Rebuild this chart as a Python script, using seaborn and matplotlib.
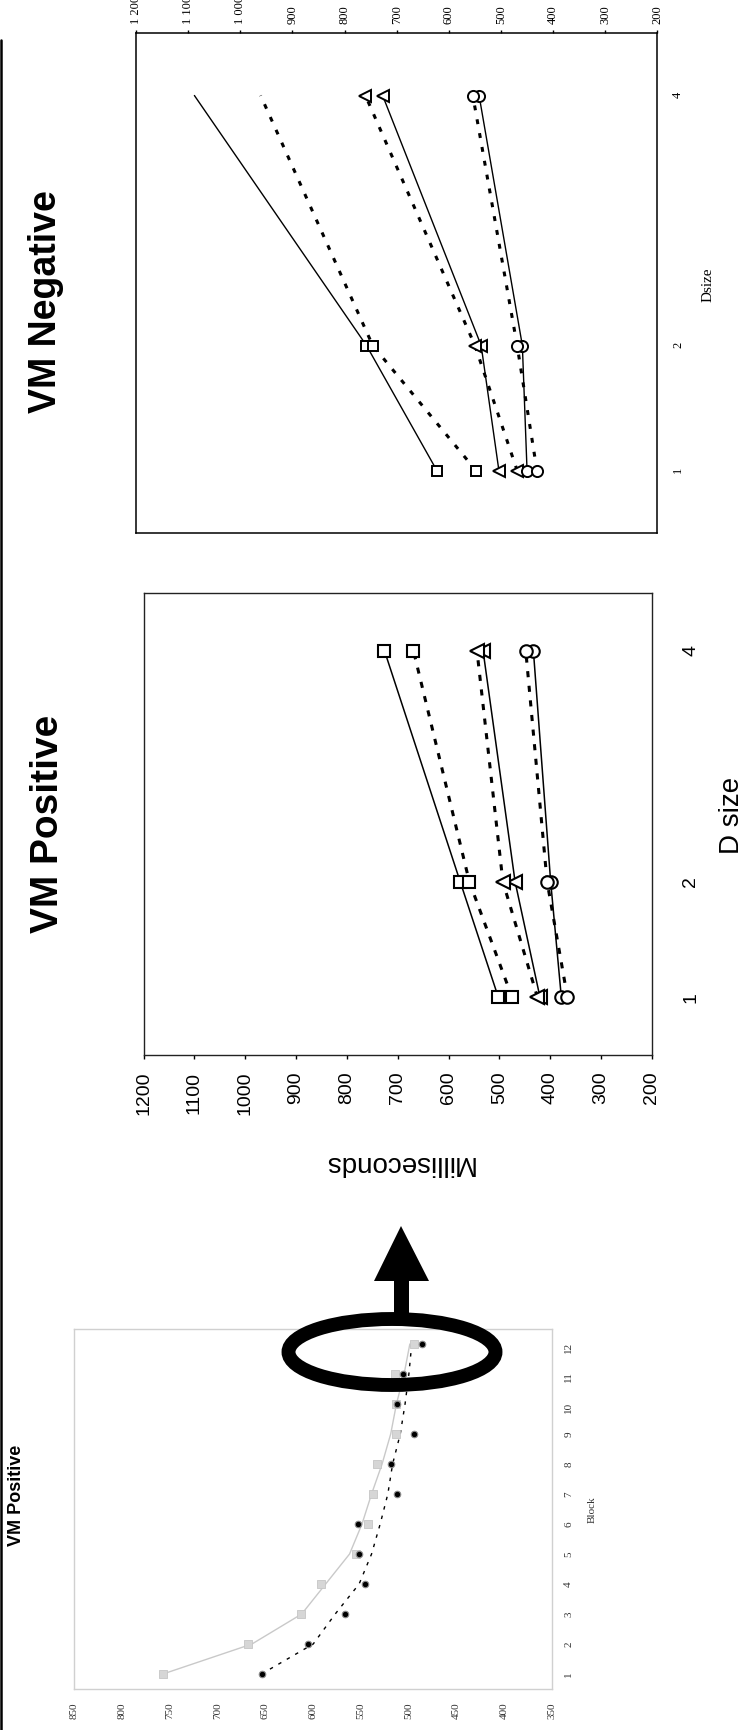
import matplotlib
matplotlib.use("Agg")
import matplotlib.pyplot as plt
import seaborn as sns
from matplotlib.patches import Ellipse, Polygon
from matplotlib.lines import Line2D
from matplotlib.transforms import Affine2D
from matplotlib.ticker import FuncFormatter

# ---------------- data ----------------
dsize = [1, 2, 4]

# VM Positive, response time (ms) by distractor-set size
pos_square_solid = [502, 577, 726]
pos_square_dotted = [475, 559, 669]
pos_triangle_solid = [420, 469, 532]
pos_triangle_dotted = [425, 493, 544]
pos_circle_solid = [378, 399, 433]
pos_circle_dotted = [366, 406, 448]

# VM Negative, response time (ms) by distractor-set size
neg_square_solid = [623, 758, 1088]
neg_square_dotted = [548, 746, 961]
neg_triangle_solid = [504, 538, 727]
neg_triangle_dotted = [469, 550, 760]
neg_circle_solid = [450, 459, 542]
neg_circle_dotted = [431, 469, 554]

# VM Positive, practice curve over blocks
blocks = list(range(1, 13))
block_rt_gray = [757, 668, 613, 592, 555, 543, 537, 533, 513, 513, 514, 495]
block_rt_black = [654, 605, 567, 546, 552, 553, 512, 519, 495, 512, 506, 486]
block_fit_gray = [757, 664, 612, 587, 562, 549, 539, 528, 519, 513, 505, 499]
block_fit_black = [654, 600, 577, 552, 539, 530, 522, 517, 509, 504, 500, 497]

ms_ticks = list(range(200, 1201, 100))
block_ms_ticks = list(range(350, 851, 50))

# ---------------- figure ----------------
W, H, DPI = 749, 1731, 100
sns.set_theme(style="white")
plt.rcParams["font.family"] = ["Liberation Sans", "DejaVu Sans"]
plt.rcParams["text.color"] = "black"
plt.rcParams["axes.labelcolor"] = "black"
plt.rcParams["xtick.color"] = "black"
plt.rcParams["ytick.color"] = "black"
fig = plt.figure(figsize=(W / DPI, H / DPI), dpi=DPI)
fig.patch.set_facecolor("white")

# pixel coordinates measured from the top-left corner of the page
px = Affine2D().scale(1 / W, -1 / H).translate(0, 1) + fig.transFigure


def box(left, top, right, bottom):
    return [left / W, 1 - bottom / H, (right - left) / W, (bottom - top) / H]


def series(ax, ms, marker, dotted, msize, mew, lw, dash, **extra):
    kw = dict(marker=marker, markersize=msize, markerfacecolor="white",
              markeredgecolor="black", markeredgewidth=mew,
              color="black", linewidth=lw)
    if dotted:
        kw["linestyle"] = (0, dash)
    kw.update(extra)
    sns.lineplot(x=ms, y=dsize, orient="y", estimator=None, ax=ax, **kw)


# ---------------- VM Positive by D size ----------------
ax = fig.add_axes(box(143.6, 594, 651.8, 1056))
dash_p = (2.0, 2.8)
series(ax, pos_square_solid, "s", False, 8.8, 1.5, 1.1, dash_p)
series(ax, pos_square_dotted, "s", True, 8.8, 1.5, 2.2, dash_p)
series(ax, pos_triangle_solid, "<", False, 9.5, 1.5, 1.1, dash_p)
series(ax, pos_triangle_dotted, "<", True, 9.5, 1.5, 2.2, dash_p)
series(ax, pos_circle_solid, "o", False, 9.0, 1.5, 1.1, dash_p)
series(ax, pos_circle_dotted, "o", True, 9.0, 1.5, 2.2, dash_p)
ax.set_xlim(1200, 200)
ax.set_ylim(0.5, 4.5)
ax.set_xticks(ms_ticks)
ax.set_yticks(dsize)
ax.tick_params(axis="x", bottom=True, top=False, direction="out", length=3.2,
               width=1, labelsize=14, labelrotation=90, pad=8, colors="black")
ax.tick_params(axis="y", left=False, right=False, labelleft=False,
               labelright=True, labelsize=14, labelrotation=90, pad=16,
               colors="black")
for s in ax.spines.values():
    s.set_color("#222222")
    s.set_linewidth(1.0)
ax.set_xlabel("Milliseconds", fontsize=20, rotation=180, color="black")
ax.xaxis.set_label_coords(0.5, (1056 - 1163) / 462)
ax.xaxis.label.set_va("center")
ax.set_ylabel("D size", fontsize=20, rotation=90, color="black")
ax.yaxis.set_label_position("right")
ax.yaxis.set_label_coords((732 - 143.6) / 508.2, (1056 - 815) / 462)
ax.yaxis.label.set_va("center")
ax.yaxis.label.set_ha("center")

# ---------------- VM Negative by D size ----------------
ax2 = fig.add_axes(box(136, 34, 657.4, 534))
dash_n = (1.6, 3.0)
series(ax2, neg_square_solid, "s", False, 7.5, 1.4, 1.0, dash_n, markevery=[0, 1])
series(ax2, neg_square_dotted, "s", True, 7.5, 1.4, 2.2, dash_n, markevery=[0, 1])
series(ax2, neg_triangle_solid, "<", False, 9.0, 1.4, 1.0, dash_n)
series(ax2, neg_triangle_dotted, "<", True, 9.0, 1.4, 2.2, dash_n)
series(ax2, neg_circle_solid, "o", False, 8.0, 1.4, 1.0, dash_n)
series(ax2, neg_circle_dotted, "o", True, 8.0, 1.4, 2.2, dash_n)
ax2.set_xlim(1200, 200)
ax2.set_ylim(0.5, 4.5)
ax2.set_xticks(ms_ticks)
ax2.set_yticks(dsize)
ax2.xaxis.set_major_formatter(FuncFormatter(lambda v, _: f"{int(v):,}".replace(",", " ")))
ax2.tick_params(axis="x", bottom=False, top=True, labelbottom=False, labeltop=True,
                direction="out", length=2.4, width=1, labelsize=9,
                labelrotation=90, pad=5, colors="black",
                labelfontfamily="Liberation Serif")
ax2.tick_params(axis="y", left=False, right=False, labelleft=False,
                labelright=True, labelsize=9, labelrotation=90, pad=4.5,
                colors="black", labelfontfamily="Liberation Serif")
for s in ax2.spines.values():
    s.set_color("black")
    s.set_linewidth(1.1)
ax2.set_xlabel("")
ax2.set_ylabel("Dsize", fontsize=11, rotation=90, family="Liberation Serif",
               color="black")
ax2.yaxis.set_label_position("right")
ax2.yaxis.set_label_coords((708 - 136) / 521.4, (534 - 285) / 500)
ax2.yaxis.label.set_va("center")
ax2.yaxis.label.set_ha("center")

# ---------------- VM Positive practice curve ----------------
ax3 = fig.add_axes(box(74, 1330, 552.4, 1690))
sns.lineplot(x=block_fit_gray, y=blocks, orient="y", estimator=None, ax=ax3,
             color="#c9c9c9", linewidth=1.0)
sns.lineplot(x=block_fit_black, y=blocks, orient="y", estimator=None, ax=ax3,
             color="black", linewidth=1.0, linestyle=(0, (2.5, 4.5)))
sns.scatterplot(x=block_rt_gray, y=blocks, marker="s", s=34, color="#d6d6d6",
                edgecolor="#c6c6c6", linewidth=0.6, ax=ax3, zorder=3)
sns.scatterplot(x=block_rt_black, y=blocks, marker="o", s=22, color="black",
                edgecolor="#8c8c8c", linewidth=0.8, ax=ax3, zorder=4)
ax3.set_xlim(850, 350)
ax3.set_ylim(0.5, 12.5)
ax3.set_xticks(block_ms_ticks)
ax3.set_yticks(blocks)
ax3.tick_params(axis="x", bottom=False, top=False, labelsize=8, labelrotation=90,
                pad=3, colors="#333333", labelfontfamily="Liberation Serif")
ax3.tick_params(axis="y", left=False, right=False, labelleft=False,
                labelright=True, labelsize=8, labelrotation=90, pad=2.5,
                colors="#333333", labelfontfamily="Liberation Serif")
for s in ax3.spines.values():
    s.set_color("#d0d0d0")
    s.set_linewidth(1.0)
ax3.set_xlabel("")
ax3.set_ylabel("Block", fontsize=8, rotation=90, family="Liberation Serif",
               color="#333333")
ax3.yaxis.set_label_position("right")
ax3.yaxis.set_label_coords((592 - 74) / 478.4, 0.5)
ax3.yaxis.label.set_va("center")
ax3.yaxis.label.set_ha("center")

# ---------------- titles ----------------
fig.text(48 / W, 1 - 824 / H, "VM Positive", rotation=90, fontsize=28,
         fontweight="bold", ha="center", va="center", color="black")
fig.text(46 / W, 1 - 302 / H, "VM Negative", rotation=90, fontsize=27,
         fontweight="bold", ha="center", va="center", color="black")
fig.text(17 / W, 1 - 1495 / H, "VM Positive", rotation=90, fontsize=13,
         fontweight="bold", ha="center", va="center", color="black")

# ---------------- page furniture ----------------
fig.add_artist(Line2D([1.2, 1.2], [41, H], transform=px, color="black", lw=1.8))
fig.add_artist(Ellipse((392, 1353), 207, 66, transform=px, fill=False,
                       edgecolor="black", lw=10, zorder=10))
fig.add_artist(Polygon([(401, 1227), (374, 1282), (394, 1282), (394, 1322),
                        (409, 1322), (409, 1282), (429, 1282)], closed=True,
                       transform=px, facecolor="black", edgecolor="none",
                       zorder=10))

fig.savefig("out.png", dpi=DPI, facecolor="white")
